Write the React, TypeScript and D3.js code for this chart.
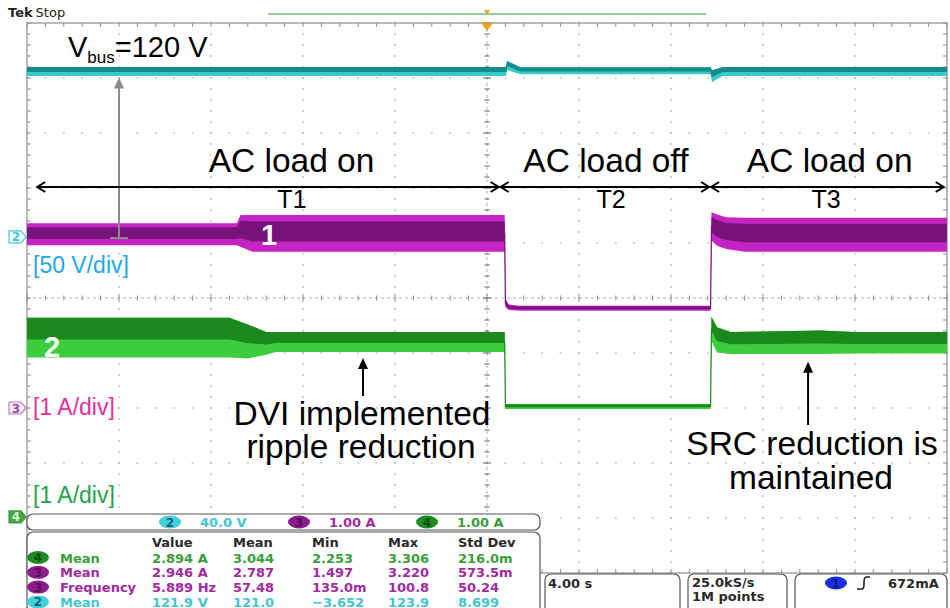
import React from 'react';
import * as d3 from 'd3';

const WIDTH = 950;
const HEIGHT = 608;

// Acquisition window: 10 horizontal divisions of 4 s, trigger at the centre
const TIME_DOMAIN = [-20, 20];
const DIV_DOMAIN = [-5, 5];
const SEC_PER_DIV = 4;

// Channel 2: bus voltage (40 V/div)
const CH2_OFFSET_DIV = 1.11;
const CH2_PER_DIV = 40;
const ch2Time = [-20, 0.82, 0.87, 1.45, 9.73, 9.78, 10.25, 20];
const ch2Upper = [123.6, 123.6, 128.0, 123.4, 123.4, 121.0, 123.6, 123.6];
const ch2Lower = [117.1, 117.1, 121.5, 118.3, 118.3, 112.7, 117.1, 117.1];

// Channel 3: current envelope (1 A/div)
const CH3_OFFSET_DIV = -2.0;
const CH3_PER_DIV = 1;
const ch3Time = [-20, -10.87, -10.72, -10.2, 0.77, 0.8, 0.95, 1.4, 9.72, 9.76, 10.0, 10.4, 11.2, 20];
const ch3Upper = [3.36, 3.36, 3.51, 3.51, 3.51, 1.98, 1.88, 1.86, 1.86, 3.56, 3.52, 3.47, 3.46, 3.46];
const ch3Lower = [2.96, 2.96, 2.93, 2.84, 2.84, 1.83, 1.78, 1.77, 1.77, 3.05, 2.95, 2.89, 2.84, 2.84];

// Channel 4: current envelope (1 A/div)
const CH4_OFFSET_DIV = -3.98;
const CH4_PER_DIV = 1;
const ch4Time = [-20, -11.2, -10.4, -9.6, -9.2, 0.77, 0.8, 9.72, 9.76, 10.0, 10.6, 14.5, 16.0, 20];
const ch4Upper = [3.62, 3.62, 3.50, 3.36, 3.36, 3.36, 2.05, 2.05, 3.64, 3.45, 3.36, 3.39, 3.36, 3.36];
const ch4Lower = [2.90, 2.90, 2.88, 2.95, 3.00, 3.00, 1.96, 1.96, 3.20, 2.99, 2.96, 2.96, 2.97, 2.97];

// Operating periods
const periodStart = [-19.6, 0.55, 9.7];
const periodEnd = [0.55, 9.7, 19.9];
const periodNames = ['T1', 'T2', 'T3'];
const periodNameAt = [-8.48, 5.4, 14.74];
const periodStates = ['AC load on', 'AC load off', 'AC load on'];
const periodStateAt = [-8.5, 5.17, 14.9];

// Measurement readout
const scaleChannels = [2, 3, 4];
const scaleTexts = ['40.0 V', '1.00 A', '1.00 A'];
const measHeaders = ['Value', 'Mean', 'Min', 'Max', 'Std Dev'];
const measChannels = [4, 3, 3, 2];
const measNames = ['Mean', 'Mean', 'Frequency', 'Mean'];
const measRow1 = ['2.894 A', '3.044', '2.253', '3.306', '216.0m'];
const measRow2 = ['2.946 A', '2.787', '1.497', '3.220', '573.5m'];
const measRow3 = ['5.889 Hz', '57.48', '135.0m', '100.8', '50.24'];
const measRow4 = ['121.9 V', '121.0', '\u22123.652', '123.9', '8.699'];
const measRows = [measRow1, measRow2, measRow3, measRow4];

const TEK_FONT = "'DejaVu Sans', sans-serif";
const ARIAL = "'Liberation Sans', Arial, sans-serif";

const chanFill: Record<number, string> = { 2: '#3fd0d8', 3: '#8c1c8c', 4: '#1f8c22' };
const chanText: Record<number, string> = { 2: '#45c4d2', 3: '#a02a9f', 4: '#3a9e3a' };
const chanBadgeText: Record<number, string> = { 2: '#1f5f78', 3: '#5a0f5a', 4: '#0f4f12' };

type Row = { t: number; hi: number; lo: number };

function Trace(props: {
  time: number[]; upper: number[]; lower: number[];
  x: d3.ScaleLinear<number, number>; y: (v: number) => number;
  outer: string; inner: string; innerFrom: number; innerTo: number;
}) {
  const { time, upper, lower, x, y, outer, inner, innerFrom, innerTo } = props;
  const rows: Row[] = time.map((t, i) => ({ t, hi: upper[i], lo: lower[i] }));
  const outerArea = d3.area<Row>().x(d => x(d.t)).y0(d => y(d.lo)).y1(d => y(d.hi));
  const innerArea = d3.area<Row>()
    .x(d => x(d.t))
    .y1(d => y(d.hi - innerFrom * (d.hi - d.lo)))
    .y0(d => y(d.hi - innerTo * (d.hi - d.lo)));
  const mid = d3.line<Row>().x(d => x(d.t)).y(d => y((d.hi + d.lo) / 2));
  return (
    <g>
      <path d={outerArea(rows) || ''} fill={outer} />
      <path d={innerArea(rows) || ''} fill={inner} />
      <path d={mid(rows) || ''} fill="none" stroke={inner} strokeWidth={1.2} />
    </g>
  );
}

function ChannelMarker({ y, n, stroke, fill, text }: { y: number; n: number; stroke: string; fill: string; text: string }) {
  const p = `M9,${y - 6} L21,${y - 6} L26,${y} L21,${y + 6} L9,${y + 6} Z`;
  return (
    <g>
      <path d={p} fill={fill} stroke={stroke} strokeWidth={1.2} />
      <text x={16} y={y + 4.5} textAnchor="middle" fontFamily={TEK_FONT} fontSize={12} fontWeight="bold" fill={text}>{n}</text>
    </g>
  );
}

function DoubleArrow({ x1, x2, y }: { x1: number; x2: number; y: number }) {
  const h = 9, w = 5;
  return (
    <g stroke="#000" strokeWidth={2} fill="none">
      <line x1={x1 + 1} y1={y} x2={x2 - 1} y2={y} />
      <polyline points={`${x1 + h},${y - w} ${x1 + 1},${y} ${x1 + h},${y + w}`} />
      <polyline points={`${x2 - h},${y - w} ${x2 - 1},${y} ${x2 - h},${y + w}`} />
    </g>
  );
}

function UpArrow({ x, yTip, yTail, color, width }: { x: number; yTip: number; yTail: number; color: string; width: number }) {
  return (
    <g>
      <line x1={x} y1={yTail} x2={x} y2={yTip + 8} stroke={color} strokeWidth={width} />
      <path d={`M${x},${yTip} L${x - 5},${yTip + 11} L${x + 5},${yTip + 11} Z`} fill={color} />
    </g>
  );
}

export default function App() {
  const x = d3.scaleLinear().domain(TIME_DOMAIN).range([27, 947]);
  const div = d3.scaleLinear().domain(DIV_DOMAIN).range([573, 23]);
  const ch2Y = (v: number) => div(CH2_OFFSET_DIV + v / CH2_PER_DIV);
  const ch3Y = (v: number) => div(CH3_OFFSET_DIV + v / CH3_PER_DIV);
  const ch4Y = (v: number) => div(CH4_OFFSET_DIV + v / CH4_PER_DIV);

  const [left, right] = x.range();
  const [bottom, top] = div.range();
  const majorT = d3.range(TIME_DOMAIN[0], TIME_DOMAIN[1] + 0.01, SEC_PER_DIV);
  const majorD = d3.range(DIV_DOMAIN[0], DIV_DOMAIN[1] + 0.01, 1);
  const minorT = d3.range(TIME_DOMAIN[0], TIME_DOMAIN[1] + 0.01, SEC_PER_DIV / 5);
  const minorD = d3.range(DIV_DOMAIN[0], DIV_DOMAIN[1] + 0.01, 0.2);
  const cx = x(0), cy = div(0);

  const grid: JSX.Element[] = [];
  // dotted graticule
  majorT.slice(1, -1).forEach((t, i) => {
    if (Math.abs(t) < 1e-9) return;
    minorD.forEach((d, j) => grid.push(<rect key={`gv${i}-${j}`} x={x(t) - 0.6} y={div(d) - 1} width={1.2} height={2} fill="#b8b8b8" />));
  });
  majorD.slice(1, -1).forEach((d, i) => {
    if (Math.abs(d) < 1e-9) return;
    minorT.forEach((t, j) => grid.push(<rect key={`gh${i}-${j}`} x={x(t) - 1} y={div(d) - 0.6} width={2} height={1.2} fill="#b8b8b8" />));
  });
  // centre cross with ticks
  grid.push(<line key="cxl" x1={left} x2={right} y1={cy} y2={cy} stroke="#b0b0b0" strokeWidth={1} strokeDasharray="3,3" />);
  grid.push(<line key="cyl" x1={cx} x2={cx} y1={top} y2={bottom} stroke="#b0b0b0" strokeWidth={1} strokeDasharray="3,3" />);
  minorT.forEach((t, j) => {
    const major = Math.abs(t / SEC_PER_DIV - Math.round(t / SEC_PER_DIV)) < 1e-6;
    const l = major ? 4 : 2.5;
    grid.push(<line key={`ct${j}`} x1={x(t)} x2={x(t)} y1={cy - l} y2={cy + l} stroke="#909090" strokeWidth={1} />);
    grid.push(<line key={`tt${j}`} x1={x(t)} x2={x(t)} y1={top} y2={top + 4} stroke="#909090" strokeWidth={1} />);
    grid.push(<line key={`bt${j}`} x1={x(t)} x2={x(t)} y1={bottom - 4} y2={bottom} stroke="#909090" strokeWidth={1} />);
  });
  minorD.forEach((d, j) => {
    const major = Math.abs(d - Math.round(d)) < 1e-6;
    const l = major ? 4 : 2.5;
    grid.push(<line key={`cd${j}`} x1={cx - l} x2={cx + l} y1={div(d)} y2={div(d)} stroke="#606060" strokeWidth={1} />);
    grid.push(<line key={`ld${j}`} x1={left} x2={left + 4} y1={div(d)} y2={div(d)} stroke="#909090" strokeWidth={1} />);
    grid.push(<line key={`rd${j}`} x1={right - 4} x2={right} y1={div(d)} y2={div(d)} stroke="#909090" strokeWidth={1} />);
  });
  grid.push(<rect key="border" x={left} y={top} width={right - left} height={bottom - top} fill="none" stroke="#8c8c8c" strokeWidth={1.2} />);

  const arrowY = 187;
  const tableLeft = 27, tableRight = 540;
  const colX = [152, 233, 312, 388, 458];
  const tekSize = 13;

  return (
    <svg width={WIDTH} height={HEIGHT} viewBox={`0 0 ${WIDTH} ${HEIGHT}`}
      style={{ position: 'absolute', left: 0, top: 0, background: '#fff' }}>
      <rect width={WIDTH} height={HEIGHT} fill="#fff" />
      {/* header */}
      <text x={8} y={17} fontFamily={TEK_FONT} fontSize={13} fill="#222">
        <tspan fontWeight="bold">Tek</tspan><tspan dx={3}>Stop</tspan>
      </text>
      <line x1={268} x2={706} y1={14} y2={14} stroke="#6cc06c" strokeWidth={1.5} />
      <path d={`M${cx - 3},10 L${cx + 3},10 L${cx},15 Z`} fill="#f0a020" />

      <g>{grid}</g>
      <path d={`M${cx - 6},${top} L${cx + 6},${top} L${cx},${top + 8} Z`} fill="#f0a020" />

      {/* traces */}
      <Trace time={ch2Time} upper={ch2Upper} lower={ch2Lower} x={x} y={ch2Y}
        outer="#34cbcb" inner="#168a8c" innerFrom={0} innerTo={0.5} />
      <Trace time={ch3Time} upper={ch3Upper} lower={ch3Lower} x={x} y={ch3Y}
        outer="#c424c4" inner="#78127c" innerFrom={0.18} innerTo={0.72} />
      <Trace time={ch4Time} upper={ch4Upper} lower={ch4Lower} x={x} y={ch4Y}
        outer="#3ccd3c" inner="#1a8a1c" innerFrom={0} innerTo={0.55} />

      {/* ground markers */}
      <ChannelMarker y={div(CH2_OFFSET_DIV)} n={2} stroke="#3cc6d6" fill="#fff" text="#3cc6d6" />
      <ChannelMarker y={div(CH3_OFFSET_DIV)} n={3} stroke="#b67cc4" fill="#f6eaf7" text="#9a4aa8" />
      <ChannelMarker y={div(CH4_OFFSET_DIV)} n={4} stroke="#3a9a3a" fill="#45a845" text="#d8f0d8" />

      {/* scale labels */}
      <text x={33} y={273} fontFamily={ARIAL} fontSize={23} fill="#1ea8e2">[50 V/div]</text>
      <text x={33} y={415} fontFamily={ARIAL} fontSize={23} fill="#e0319c">[1 A/div]</text>
      <text x={33} y={503} fontFamily={ARIAL} fontSize={23} fill="#1ea44e">[1 A/div]</text>

      {/* bus voltage annotation */}
      <text x={68} y={57} fontFamily={ARIAL} fontSize={29} fill="#000">
        V<tspan fontSize={17} dy={6}>bus</tspan><tspan dy={-6}>=120 V</tspan>
      </text>
      <UpArrow x={x(-16)} yTip={ch2Y(116)} yTail={ch3Y(3.09)} color="#8a8a8a" width={2} />
      <line x1={x(-16) - 9} x2={x(-16) + 9} y1={ch3Y(3.09)} y2={ch3Y(3.09)} stroke="#8a8a8a" strokeWidth={2} />

      {/* periods */}
      {periodStart.map((s, i) => (
        <g key={`p${i}`}>
          <DoubleArrow x1={x(s)} x2={x(periodEnd[i])} y={arrowY} />
          <text x={x(periodStateAt[i])} y={172} textAnchor="middle" fontFamily={ARIAL} fontSize={33.5} fill="#000">{periodStates[i]}</text>
          <text x={x(periodNameAt[i])} y={208} textAnchor="middle" fontFamily={ARIAL} fontSize={25} fill="#000">{periodNames[i]}</text>
        </g>
      ))}

      {/* trace numbers */}
      <text x={269} y={245} textAnchor="middle" fontFamily={ARIAL} fontSize={29} fontWeight="bold" fill="#fff">1</text>
      <text x={52} y={357} textAnchor="middle" fontFamily={ARIAL} fontSize={29} fontWeight="bold" fill="#fff">2</text>

      {/* ripple notes */}
      <UpArrow x={x(-5.39)} yTip={ch4Y(2.89)} yTail={396} color="#000" width={2} />
      <text x={362} y={425} textAnchor="middle" fontFamily={ARIAL} fontSize={33.5} fill="#000">DVI implemented</text>
      <text x={361} y={458} textAnchor="middle" fontFamily={ARIAL} fontSize={33.5} fill="#000">ripple reduction</text>
      <UpArrow x={x(13.96)} yTip={ch4Y(2.82)} yTail={425} color="#000" width={2} />
      <text x={812} y={455} textAnchor="middle" fontFamily={ARIAL} fontSize={33.5} fill="#000">SRC reduction is</text>
      <text x={811} y={489} textAnchor="middle" fontFamily={ARIAL} fontSize={33.5} fill="#000">maintained</text>

      {/* vertical scale readout */}
      <rect x={tableLeft} y={514} width={tableRight - tableLeft} height={16} rx={6} fill="#fff" stroke="#555" strokeWidth={1.2} />
      {scaleChannels.map((c, i) => {
        const bx = [170, 299, 427][i];
        return (
          <g key={`sc${c}`}>
            <ellipse cx={bx} cy={522} rx={11} ry={6.5} fill={chanFill[c]} />
            <text x={bx} y={526.5} textAnchor="middle" fontFamily={TEK_FONT} fontSize={12} fontWeight="bold" fill={chanBadgeText[c]}>{c}</text>
            <text x={bx + 30} y={527} fontFamily={TEK_FONT} fontSize={tekSize} fontWeight="bold" fill={chanText[c]}>{scaleTexts[i]}</text>
          </g>
        );
      })}

      {/* measurement table */}
      <rect x={tableLeft} y={532} width={tableRight - tableLeft} height={90} rx={6} fill="#fff" stroke="#555" strokeWidth={1.2} />
      {measHeaders.map((h, i) => (
        <text key={h} x={colX[i]} y={547} fontFamily={TEK_FONT} fontSize={tekSize} fontWeight="bold" fill="#2a2a2a">{h}</text>
      ))}
      {measRows.map((row, r) => {
        const c = measChannels[r];
        const yb = 562.5 + r * 14.8;
        return (
          <g key={`r${r}`}>
            <ellipse cx={38} cy={yb - 5} rx={11} ry={6.5} fill={chanFill[c]} />
            <text x={38} y={yb - 0.5} textAnchor="middle" fontFamily={TEK_FONT} fontSize={12} fontWeight="bold" fill={chanBadgeText[c]}>{c}</text>
            <text x={60} y={yb} fontFamily={TEK_FONT} fontSize={tekSize} fontWeight="bold" fill={chanText[c]}>{measNames[r]}</text>
            {row.map((v, i) => (
              <text key={i} x={colX[i]} y={yb} fontFamily={TEK_FONT} fontSize={tekSize} fontWeight="bold" fill={chanText[c]}>{v}</text>
            ))}
          </g>
        );
      })}

      {/* timebase / acquisition / trigger */}
      <rect x={545} y={574} width={135} height={44} rx={6} fill="#fff" stroke="#555" strokeWidth={1.2} />
      <text x={548} y={588} fontFamily={TEK_FONT} fontSize={tekSize} fontWeight="bold" fill="#2a2a2a">4.00 s</text>
      <rect x={688} y={574} width={99} height={44} rx={6} fill="#fff" stroke="#555" strokeWidth={1.2} />
      <text x={692} y={587} fontFamily={TEK_FONT} fontSize={tekSize} fontWeight="bold" fill="#2a2a2a">25.0kS/s</text>
      <text x={692} y={601} fontFamily={TEK_FONT} fontSize={tekSize} fontWeight="bold" fill="#2a2a2a">1M points</text>
      <rect x={795} y={574} width={152} height={44} rx={6} fill="#fff" stroke="#555" strokeWidth={1.2} />
      <ellipse cx={836} cy={583} rx={11} ry={6.5} fill="#1530e0" />
      <text x={836} y={587.5} textAnchor="middle" fontFamily={TEK_FONT} fontSize={12} fontWeight="bold" fill="#0a1a80">1</text>
      <path d="M857,589 L862,589 Q864,589 864,584 L864,582 Q864,577 867,577 L870,577" fill="none" stroke="#222" strokeWidth={1.6} />
      <text x={888} y={588} fontFamily={TEK_FONT} fontSize={tekSize} fontWeight="bold" fill="#2a2a2a">672mA</text>
    </svg>
  );
}
